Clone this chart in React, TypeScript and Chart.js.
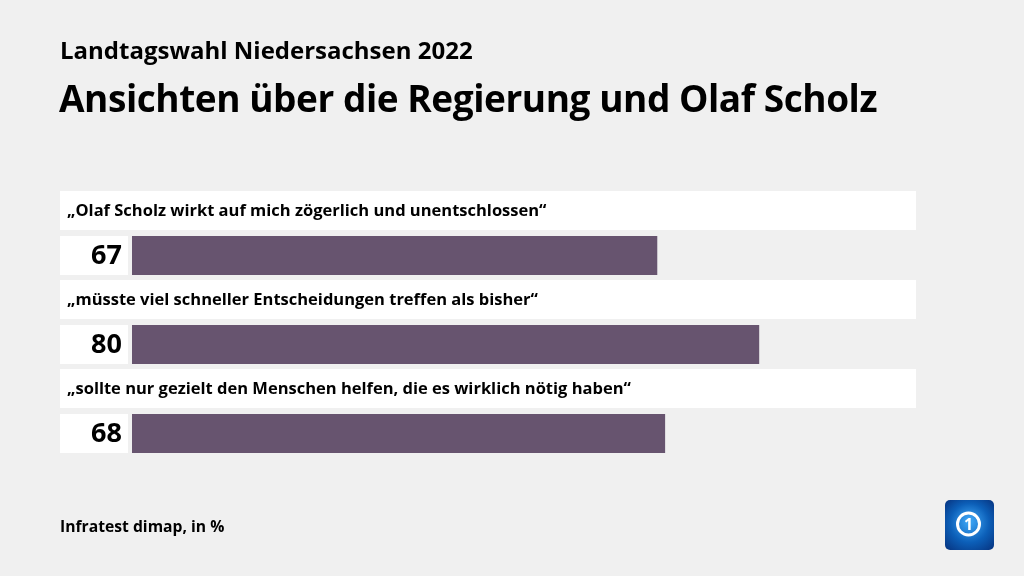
import React, { useEffect, useRef } from "react";
import { Chart, registerables } from "chart.js";

Chart.register(...registerables);

const categories = [
  "„Olaf Scholz wirkt auf mich zögerlich und unentschlossen“",
  "„müsste viel schneller Entscheidungen treffen als bisher“",
  "„sollte nur gezielt den Menschen helfen, die es wirklich nötig haben“",
];
const values = [67, 80, 68];
const titleTop = "Landtagswahl Niedersachsen 2022";
const titleMain = "Ansichten über die Regierung und Olaf Scholz";
const source = "Infratest dimap, in %";

const FONT = "'Open Sans', 'DejaVu Sans', sans-serif";

export default function App() {
  const ref = useRef<HTMLCanvasElement | null>(null);
  useEffect(() => {
    if (!ref.current) return;
    const boxes = {
      id: "boxes",
      beforeDatasetsDraw(chart: any) {
        const ctx = chart.ctx;
        const ys = chart.scales.y;
        ctx.save();
        categories.forEach((lab, i) => {
          const y = ys.getPixelForValue(i);
          ctx.fillStyle = "#ffffff";
          ctx.fillRect(60, y - 64.5, 856, 39);
          ctx.fillRect(60, y - 19.5, 68, 39);
          ctx.fillStyle = "#000000";
          ctx.textBaseline = "middle";
          ctx.textAlign = "left";
          ctx.font = `700 16.5px ${FONT}`;
          ctx.fillText(lab, 67, y - 44);
          ctx.textAlign = "right";
          ctx.font = `700 27px ${FONT}`;
          ctx.fillText(String(values[i]), 122, y + 1);
        });
        ctx.restore();
      },
      afterDraw(chart: any) {
        const ctx = chart.ctx;
        ctx.save();
        const x = 945, y = 500, w = 49, h = 50, r = 5;
        const g = ctx.createRadialGradient(x + w / 2, y + h / 2 - 4, 3, x + w / 2, y + h / 2, 36);
        g.addColorStop(0, "#3aa0f0");
        g.addColorStop(0.5, "#0c5fb8");
        g.addColorStop(1, "#062f7a");
        ctx.fillStyle = g;
        ctx.beginPath();
        ctx.moveTo(x + r, y);
        ctx.arcTo(x + w, y, x + w, y + h, r);
        ctx.arcTo(x + w, y + h, x, y + h, r);
        ctx.arcTo(x, y + h, x, y, r);
        ctx.arcTo(x, y, x + w, y, r);
        ctx.closePath();
        ctx.fill();
        ctx.strokeStyle = "#ffffff";
        ctx.lineWidth = 3;
        ctx.beginPath();
        ctx.arc(x + w / 2 - 1, y + h / 2 - 1, 11, 0, Math.PI * 2);
        ctx.stroke();
        ctx.fillStyle = "#ffffff";
        ctx.font = `700 16px ${FONT}`;
        ctx.textAlign = "center";
        ctx.textBaseline = "middle";
        ctx.fillText("1", x + w / 2 - 1, y + h / 2);
        ctx.restore();
      },
    };
    const chart = new Chart(ref.current, {
      type: "bar",
      data: {
        labels: categories,
        datasets: [
          {
            data: values,
            backgroundColor: "#67546f",
            borderWidth: 0,
            categoryPercentage: 1,
            barPercentage: 39 / 89,
          },
        ],
      },
      options: {
        indexAxis: "y",
        animation: false,
        responsive: false,
        maintainAspectRatio: false,
        layout: { padding: { left: 132, right: 108, top: 211, bottom: 98 } },
        scales: {
          x: { min: 0, max: 100, display: false },
          y: { display: false },
        },
        plugins: { legend: { display: false }, tooltip: { enabled: false } },
      },
      plugins: [boxes],
    });
    return () => chart.destroy();
  }, []);

  return (
    <div
      style={{
        position: "fixed",
        left: 0,
        top: 0,
        width: 1024,
        height: 576,
        background: "#f0f0f0",
        fontFamily: FONT,
        color: "#000",
        overflow: "hidden",
      }}
    >
      <canvas ref={ref} width={1024} height={576} style={{ position: "absolute", left: 0, top: 0 }} />
      <div style={{ position: "absolute", left: 60, top: 33, fontSize: 24, fontWeight: 700, whiteSpace: "nowrap" }}>
        {titleTop}
      </div>
      <div style={{ position: "absolute", left: 59, top: 72, fontSize: 37, fontWeight: 700, whiteSpace: "nowrap", letterSpacing: -0.45 }}>
        {titleMain}
      </div>
      <div style={{ position: "absolute", left: 60, top: 515, fontSize: 15.7, fontWeight: 700, whiteSpace: "nowrap" }}>
        {source}
      </div>
    </div>
  );
}
